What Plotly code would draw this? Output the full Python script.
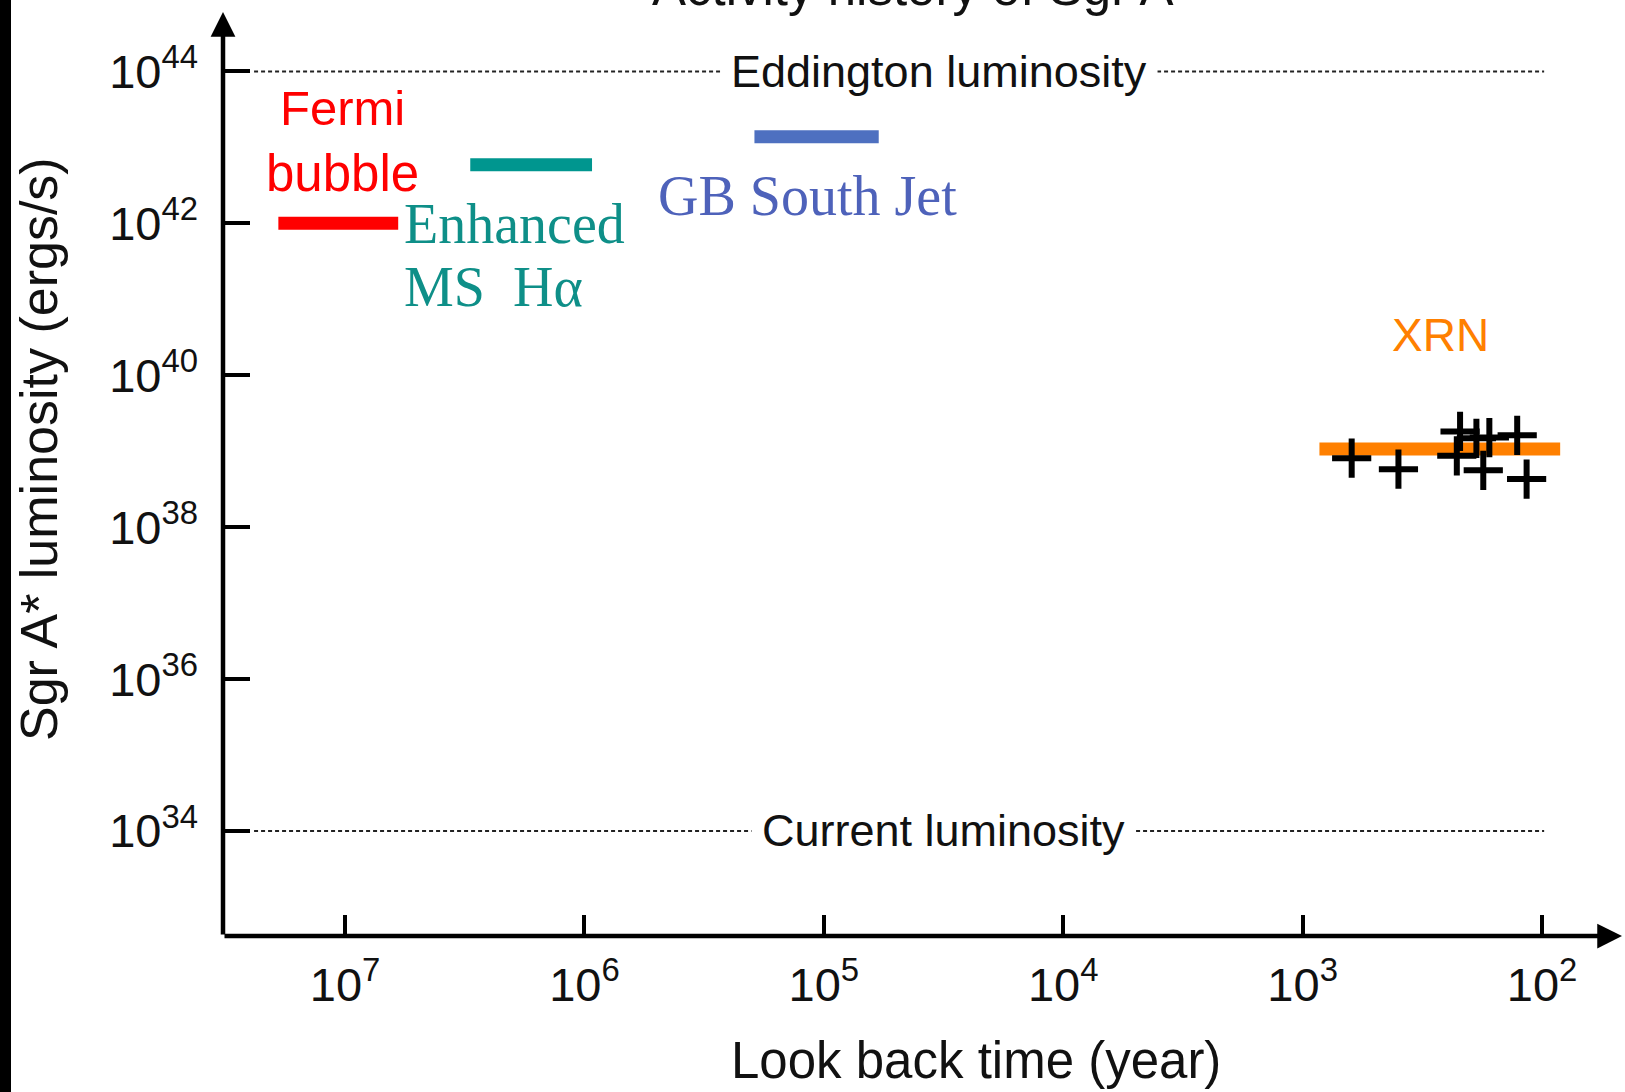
import plotly.graph_objects as go

# ---------------- data ----------------
x_tick_vals = [1e7, 1e6, 1e5, 1e4, 1e3, 1e2]
x_tick_text = ["10<sup>7</sup>", "10<sup>6</sup>", "10<sup>5</sup>", "10<sup>4</sup>", "10<sup>3</sup>", "10<sup>2</sup>"]
y_tick_vals = [1e34, 1e36, 1e38, 1e40, 1e42, 1e44]
y_tick_text = ["10<sup>34</sup>", "10<sup>36</sup>", "10<sup>38</sup>", "10<sup>40</sup>", "10<sup>42</sup>", "10<sup>44</sup>"]

fermi_x = [1.9e7, 6.0e6]
fermi_y = [1.0e42, 1.0e42]
msha_x = [3.0e6, 9.3e5]
msha_y = [5.9e42, 5.9e42]
gbjet_x = [1.95e5, 5.9e4]
gbjet_y = [1.38e43, 1.38e43]
xrn_x = [851, 84]
xrn_y = [1.07e39, 1.07e39]

xrn_pts_x = [624, 398, 227, 220, 188, 166, 176, 127, 116]
xrn_pts_y = [8.1e38, 5.8e38, 8.7e38, 1.82e39, 1.48e39, 1.51e39, 5.6e38, 1.62e39, 4.3e38]

ref_line_x = [2.4e7, 98]
L_eddington = [1e44, 1e44]
L_current = [1e34, 1e34]

x_range_log = [7.51, 1.666]
y_range_log = [32.617, 44.783]

# ---------------- figure ----------------
SANS = "Liberation Sans, Arial, sans-serif"
SERIF = "Liberation Serif, Times New Roman, serif"
INK = "#111111"

fig = go.Figure()

for xs, ys in [(ref_line_x, L_eddington), (ref_line_x, L_current)]:
    fig.add_trace(go.Scatter(x=xs, y=ys, mode="lines",
                             line=dict(color="#222222", width=2, dash="4px,3px"),
                             showlegend=False, hoverinfo="skip"))

bars = [(fermi_x, fermi_y, "#FF0000"), (msha_x, msha_y, "#00968F"),
        (gbjet_x, gbjet_y, "#4E70C0"), (xrn_x, xrn_y, "#FF8000")]
for xs, ys, c in bars:
    fig.add_trace(go.Scatter(x=xs, y=ys, mode="lines", line=dict(color=c, width=13),
                             showlegend=False, hoverinfo="skip"))

fig.add_trace(go.Scatter(x=xrn_pts_x, y=xrn_pts_y, mode="markers",
                         marker=dict(symbol="cross-thin", size=28,
                                     line=dict(color="black", width=6)),
                         showlegend=False, hoverinfo="skip"))

annotations = []
annotations.append(dict(x=4.519, y=44.0, xref="x", yref="y", text="Eddington luminosity",
                        showarrow=False, font=dict(family=SANS, size=45, color=INK),
                        bgcolor="white", borderpad=10, xanchor="center", yanchor="middle"))
annotations.append(dict(x=4.502, y=34.0, xref="x", yref="y", text="Current luminosity",
                        showarrow=False, font=dict(family=SANS, size=45, color=INK),
                        bgcolor="white", borderpad=10, xanchor="center", yanchor="middle"))
annotations.append(dict(x=7.0125, y=43.52, xref="x", yref="y", text="Fermi",
                        showarrow=False, font=dict(family=SANS, size=49, color="#FF0000"),
                        xanchor="center", yanchor="middle"))
annotations.append(dict(x=7.0125, y=42.66, xref="x", yref="y", text="bubble",
                        showarrow=False, font=dict(family=SANS, size=51, color="#FF0000"),
                        xanchor="center", yanchor="middle"))
annotations.append(dict(x=6.762, y=41.99, xref="x", yref="y", text="Enhanced",
                        showarrow=False, font=dict(family=SERIF, size=56, color="#0E8F88"),
                        xanchor="left", yanchor="middle"))
annotations.append(dict(x=6.762, y=41.16, xref="x", yref="y", text="MS  H\u03b1",
                        showarrow=False, font=dict(family=SERIF, size=56, color="#0E8F88"),
                        xanchor="left", yanchor="middle"))
annotations.append(dict(x=5.07, y=42.36, xref="x", yref="y", text="GB South Jet",
                        showarrow=False, font=dict(family=SERIF, size=56, color="#4E62BA"),
                        xanchor="center", yanchor="middle"))
annotations.append(dict(x=2.424, y=40.53, xref="x", yref="y", text="XRN",
                        showarrow=False, font=dict(family=SANS, size=46, color="#FF8000"),
                        xanchor="center", yanchor="middle"))
# cut-off title
annotations.append(dict(x=0.5, y=1.0, xref="paper", yref="paper", text="Activity history of Sgr A*",
                        showarrow=False, font=dict(family=SANS, size=51, color=INK),
                        xanchor="center", yanchor="bottom", yshift=-6))
# axis arrows
annotations.append(dict(x=x_range_log[1], y=y_range_log[0], xref="x", yref="y",
                        ax=x_range_log[0], ay=y_range_log[0], axref="x", ayref="y",
                        text="", showarrow=True, arrowhead=2, arrowsize=1.1, arrowwidth=4.5,
                        arrowcolor="black", standoff=0, startstandoff=0))
annotations.append(dict(x=x_range_log[0], y=y_range_log[1], xref="x", yref="y",
                        ax=x_range_log[0], ay=y_range_log[0], axref="x", ayref="y",
                        text="", showarrow=True, arrowhead=2, arrowsize=1.1, arrowwidth=4.5,
                        arrowcolor="black", standoff=0, startstandoff=0))
# axis titles
annotations.append(dict(x=0.538, y=0, xref="paper", yref="paper", text="Look back time (year)",
                        showarrow=False, font=dict(family=SANS, size=51, color=INK),
                        xanchor="center", yanchor="middle", yshift=-124))
annotations.append(dict(x=0, y=0.527, xref="paper", yref="paper", text="Sgr A* luminosity (ergs/s)",
                        showarrow=False, font=dict(family=SANS, size=52, color=INK),
                        textangle=-90, xanchor="center", yanchor="middle", xshift=-184))

fig.update_layout(
    width=1625, height=1092,
    margin=dict(l=223, r=3, t=12, b=156),
    paper_bgcolor="white", plot_bgcolor="white",
    annotations=annotations,
    shapes=[dict(type="rect", xref="paper", yref="paper", xsizemode="pixel", xanchor=0,
                 x0=-223, x1=-212, y0=-0.5, y1=1.5, fillcolor="black", line=dict(width=0),
                 layer="above")],
    xaxis=dict(type="log", range=x_range_log, showgrid=False, zeroline=False, showline=False,
               tickmode="array", tickvals=x_tick_vals, ticktext=x_tick_text,
               ticks="inside", ticklen=21, tickwidth=3.5, tickcolor="black",
               tickfont=dict(family=SANS, size=47, color=INK), ticklabelstandoff=17),
    yaxis=dict(type="log", range=y_range_log, showgrid=False, zeroline=False, showline=False,
               tickmode="array", tickvals=y_tick_vals, ticktext=y_tick_text,
               ticks="inside", ticklen=27, tickwidth=3.5, tickcolor="black",
               tickfont=dict(family=SANS, size=47, color=INK), ticklabelstandoff=24),
)

fig.write_html("out.html", config={"displayModeBar": False},
               post_script="document.body.style.margin='0';document.body.style.overflow='hidden';")
